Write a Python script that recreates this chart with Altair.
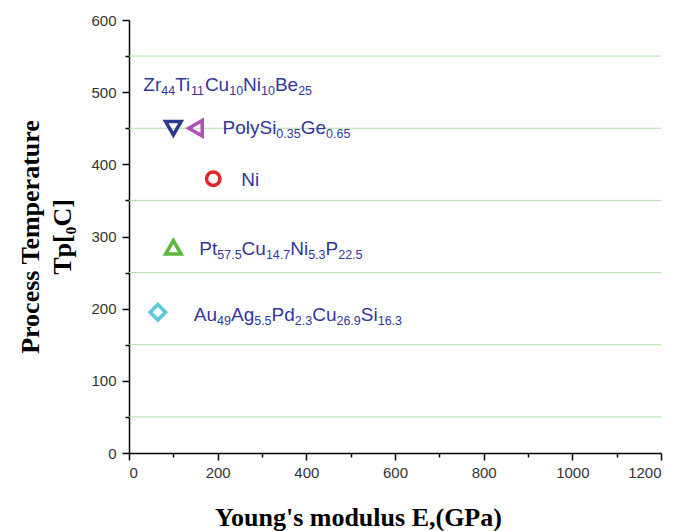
import altair as alt
import pandas as pd

# ---------------- data ----------------
materials = ["Zr44Ti11Cu10Ni10Be25", "PolySi0.35Ge0.65", "Ni", "Pt57.5Cu14.7Ni5.3P22.5", "Au49Ag5.5Pd2.3Cu26.9Si16.3"]
modulus = [100, 150, 190, 100, 65]          # Young's modulus E (GPa)
temperature = [450, 450, 380, 285, 195]     # process temperature (C)
shapes = ["triangle-down", "triangle-left", "circle", "triangle-up", "diamond"]
colors = ["#2b3990", "#b14fb6", "#e0262a", "#5cb83e", "#5cc8d8"]

grid_values = [50, 150, 250, 350, 450, 550]
x_ticks = [0, 200, 400, 600, 800, 1000, 1200]
x_minor = [100, 300, 500, 700, 900, 1100]

# label segments: (text, is_subscript)
label_segments = {
    "Zr44Ti11Cu10Ni10Be25": [("Zr", 0), ("44", 1), ("Ti", 0), ("11", 1), ("Cu", 0), ("10", 1),
                             ("Ni", 0), ("10", 1), ("Be", 0), ("25", 1)],
    "PolySi0.35Ge0.65": [("PolySi", 0), ("0.35", 1), ("Ge", 0), ("0.65", 1)],
    "Ni": [("Ni", 0)],
    "Pt57.5Cu14.7Ni5.3P22.5": [("Pt", 0), ("57.5", 1), ("Cu", 0), ("14.7", 1), ("Ni", 0), ("5.3", 1),
                               ("P", 0), ("22.5", 1)],
    "Au49Ag5.5Pd2.3Cu26.9Si16.3": [("Au", 0), ("49", 1), ("Ag", 0), ("5.5", 1), ("Pd", 0), ("2.3", 1),
                                   ("Cu", 0), ("26.9", 1), ("Si", 0), ("16.3", 1)],
}
# label anchor offsets from the marker (pixels): (dx, dy to baseline)
label_offsets = {
    "Zr44Ti11Cu10Ni10Be25": (-30, -37),
    "PolySi0.35Ge0.65": (27, 6),
    "Ni": (28, 7),
    "Pt57.5Cu14.7Ni5.3P22.5": (26, 8),
    "Au49Ag5.5Pd2.3Cu26.9Si16.3": (36, 9),
}

# ---------------- styling helpers ----------------
FONT = "Liberation Sans"
MAIN_SIZE = 19
SUB_SIZE = 12.5
SUB_DROP = 4
LABEL_COLOR = "#33379a"
ARIAL = {"0": 556, "1": 556, "2": 556, "3": 556, "4": 556, "5": 556, "6": 556, "7": 556, "8": 556,
         "9": 556, ".": 278, "A": 667, "u": 556, "g": 556, "P": 667, "d": 556, "C": 722, "S": 667,
         "i": 222, "Z": 611, "r": 333, "T": 611, "N": 722, "B": 667, "e": 556, "t": 278, "o": 556,
         "l": 222, "y": 500, "G": 778}


def text_width(s, size):
    return sum(ARIAL.get(c, 556) for c in s) * size / 1000.0


df = pd.DataFrame({"material": materials, "E": modulus, "T": temperature,
                   "shape": shapes, "color": colors})
grid_df = pd.DataFrame({"T": grid_values})

W, H = 532, 433

X = alt.X("E:Q", scale=alt.Scale(domain=[0, 1200], nice=False, zero=False),
          axis=alt.Axis(values=x_ticks + x_minor, title="Young's modulus E,(GPa)", format="d",
                        labelExpr="datum.value % 200 == 0 ? datum.label : ''",
                        tickSize=alt.condition("datum.value % 200 == 0", alt.value(7), alt.value(4)),
                        grid=False, labelPadding=5,
                        titleX=229, titleY=72, titleBaseline="alphabetic", titleAnchor="start",
                        titleAlign="center"))
Y = alt.Y("T:Q", scale=alt.Scale(domain=[0, 600], nice=False, zero=False),
          axis=alt.Axis(values=list(range(0, 601, 50)), format="d",
                        title=["Process Temperature", "Tp[\u2080C]"],
                        labelExpr="datum.value % 100 == 0 ? datum.label : ''",
                        tickSize=alt.condition("datum.value % 100 == 0", alt.value(7), alt.value(4)),
                        grid=False, labelPadding=6, titlePadding=15.5, titleLineHeight=32))

grid = alt.Chart(grid_df).mark_rule(color="#ace0a6", strokeWidth=1).encode(y=Y)

layers = [grid]
for m, sh, col in zip(materials, shapes, colors):
    layers.append(
        alt.Chart(df).transform_filter(alt.datum.material == m)
        .mark_point(shape=sh, filled=False, size=180 if sh == "circle" else 240,
                    strokeWidth=3.5, color=col, opacity=1)
        .encode(x=X, y=Y)
    )

for m in materials:
    dx0, dy0 = label_offsets[m]
    cur = dx0
    for seg, sub in label_segments[m]:
        size = SUB_SIZE if sub else MAIN_SIZE
        layers.append(
            alt.Chart(df).transform_filter(alt.datum.material == m)
            .mark_text(text=seg, align="left", baseline="alphabetic", font=FONT, fontSize=size,
                       color=LABEL_COLOR, dx=cur, dy=dy0 + (SUB_DROP if sub else 0))
            .encode(x=X, y=Y)
        )
        cur += text_width(seg, size)

chart = alt.layer(*layers).properties(
    width=W, height=H,
    padding={"left": 9, "top": 5, "right": 5, "bottom": 5},
).configure_view(stroke=None).configure_axis(
    domainColor="black", domainWidth=1.5, tickColor="black", tickWidth=1.5,
    labelFont=FONT, labelFontSize=15, labelColor="#333333",
    titleFont="Liberation Serif", titleFontSize=26, titleFontWeight="bold", titleColor="black",
)

chart.save("out.html", embed_options={"renderer": "svg", "actions": False})
